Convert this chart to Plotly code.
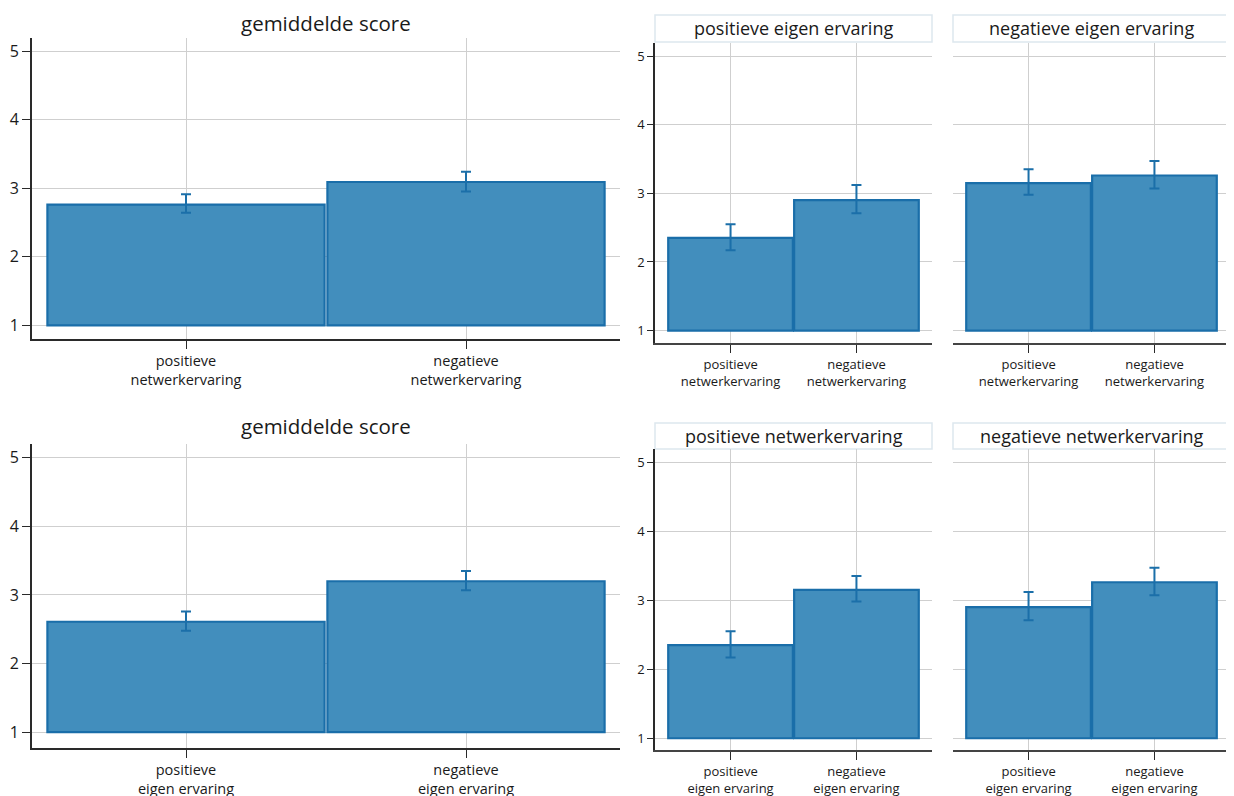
import plotly.graph_objects as go

# ---------------- data ----------------
net_cats = ["positieve<br>netwerkervaring", "negatieve<br>netwerkervaring"]
eigen_cats = ["positieve<br>eigen ervaring", "negatieve<br>eigen ervaring"]

# top-left: mean score by network experience
tl_mean = [2.76, 3.09]
tl_low = [2.64, 2.95]
tl_high = [2.91, 3.24]

# top-right: by network experience, split by own experience
pos_eigen_mean = [2.35, 2.90]
pos_eigen_low = [2.17, 2.71]
pos_eigen_high = [2.55, 3.12]
neg_eigen_mean = [3.15, 3.26]
neg_eigen_low = [2.98, 3.07]
neg_eigen_high = [3.35, 3.47]

# bottom-left: mean score by own experience
bl_mean = [2.61, 3.20]
bl_low = [2.48, 3.07]
bl_high = [2.76, 3.35]

# bottom-right: by own experience, split by network experience
pos_net_mean = [2.35, 3.15]
pos_net_low = [2.17, 2.98]
pos_net_high = [2.55, 3.35]
neg_net_mean = [2.90, 3.26]
neg_net_low = [2.71, 3.07]
neg_net_high = [3.12, 3.47]

main_title = "gemiddelde score"
facet_titles = ["positieve eigen ervaring", "negatieve eigen ervaring",
                "positieve netwerkervaring", "negatieve netwerkervaring"]
y_ticks = [1, 2, 3, 4, 5]

# ---------------- style ----------------
W, H = 1234, 796
OFF = 8  # page body margin
FONT = "Open Sans"
BAR_FILL = "#428ebd"
BAR_LINE = "#1a6ea9"
ERR_COL = "#1b6fa9"
GRID = "#cfcfcf"
AXIS = "#2a2a2a"
TEXT = "#1a1a1a"


def px(p):
    return (p - OFF) / W


def py(p):
    return 1 - (p - OFF) / H


fig = go.Figure()

panels = [
    # (axis idx, cats, mean, low, high, x px, y px, xrange, yrange, show y labels, big)
    (1, net_cats, tl_mean, tl_low, tl_high, (32, 620), (38, 339), [-0.55, 1.55], [0.8, 5.19], True, True),
    (2, net_cats, pos_eigen_mean, pos_eigen_low, pos_eigen_high, (655, 932), (43, 343), [-0.6, 1.6], [0.82, 5.19], True, False),
    (3, net_cats, neg_eigen_mean, neg_eigen_low, neg_eigen_high, (953, 1230), (43, 343), [-0.6, 1.6], [0.82, 5.19], False, False),
    (4, eigen_cats, bl_mean, bl_low, bl_high, (32, 620), (444, 748), [-0.55, 1.55], [0.77, 5.2], True, True),
    (5, eigen_cats, pos_net_mean, pos_net_low, pos_net_high, (655, 932), (449, 750), [-0.6, 1.6], [0.83, 5.19], True, False),
    (6, eigen_cats, neg_net_mean, neg_net_low, neg_net_high, (953, 1230), (449, 750), [-0.6, 1.6], [0.83, 5.19], False, False),
]

layout_axes = {}
for idx, cats, mean, low, high, xp, yp, xr, yr, showy, big in panels:
    sfx = "" if idx == 1 else str(idx)
    fig.add_trace(go.Bar(
        x=cats,
        y=[m - 1 for m in mean],
        base=[1 for _ in mean],
        width=0.99,
        marker=dict(color=BAR_FILL, line=dict(color=BAR_LINE, width=2.2)),
        error_y=dict(type="data", symmetric=False,
                     array=[h - m for h, m in zip(high, mean)],
                     arrayminus=[m - l for m, l in zip(mean, low)],
                     color=ERR_COL, thickness=2, width=5),
        xaxis="x" + sfx, yaxis="y" + sfx,
        showlegend=False, hoverinfo="skip",
    ))
    tick_size = 14.5 if big else 13
    layout_axes["xaxis" + sfx] = dict(
        domain=[px(xp[0]), px(xp[1])], anchor="y" + sfx,
        type="category", categoryorder="array", categoryarray=cats,
        range=xr, showgrid=True, gridcolor=GRID, gridwidth=1,
        showline=True, linecolor=AXIS if big else "#444444", linewidth=1.6 if big else 2,
        ticks="outside", ticklen=8, tickcolor=AXIS, tickwidth=1.3,
        tickfont=dict(family=FONT, size=tick_size, color=TEXT),
        zeroline=False, fixedrange=True,
    )
    layout_axes["yaxis" + sfx] = dict(
        domain=[py(yp[1]), py(yp[0])], anchor="x" + sfx,
        range=yr, tickvals=y_ticks, showgrid=True, gridcolor=GRID, gridwidth=1,
        showline=showy, linecolor=AXIS, linewidth=1.6,
        ticks="outside" if showy else "", ticklen=8 if big else 6, tickcolor=AXIS, tickwidth=1.3,
        showticklabels=showy,
        tickfont=dict(family=FONT, size=16 if big else 13, color=TEXT),
        zeroline=False, fixedrange=True,
    )

annotations = []
shapes = []
# main titles (top one anchored at the figure's top edge so it is not clipped)
annotations.append(dict(text=main_title, x=px(326), y=1, xref="paper", yref="paper",
                        xanchor="center", yanchor="top", showarrow=False, borderpad=0,
                        font=dict(family=FONT, size=20.5, color=TEXT)))
annotations.append(dict(text=main_title, x=px(326), y=py(426), xref="paper", yref="paper",
                        xanchor="center", yanchor="middle", showarrow=False,
                        font=dict(family=FONT, size=20.5, color=TEXT)))
# facet title boxes
facet_boxes = [((655, 932), (15, 42)), ((953, 1230), (15, 42)),
               ((655, 932), (423, 449)), ((953, 1230), (423, 449))]
for title, (xb, yb) in zip(facet_titles, facet_boxes):
    shapes.append(dict(type="rect", xref="paper", yref="paper",
                       x0=px(xb[0]), x1=px(xb[1]), y0=py(yb[1]), y1=py(yb[0]),
                       line=dict(color="#dde7ee", width=1.5), fillcolor="white", layer="below"))
    annotations.append(dict(text=title, x=px((xb[0] + xb[1]) / 2), y=py((yb[0] + yb[1]) / 2),
                            xref="paper", yref="paper", xanchor="center", yanchor="middle",
                            showarrow=False, font=dict(family=FONT, size=18, color=TEXT)))

fig.update_layout(
    width=W, height=H,
    margin=dict(l=0, r=0, t=0, b=0),
    paper_bgcolor="white", plot_bgcolor="white",
    annotations=annotations, shapes=shapes,
    barmode="overlay",
    **layout_axes,
)

fig.write_html("out.html")
